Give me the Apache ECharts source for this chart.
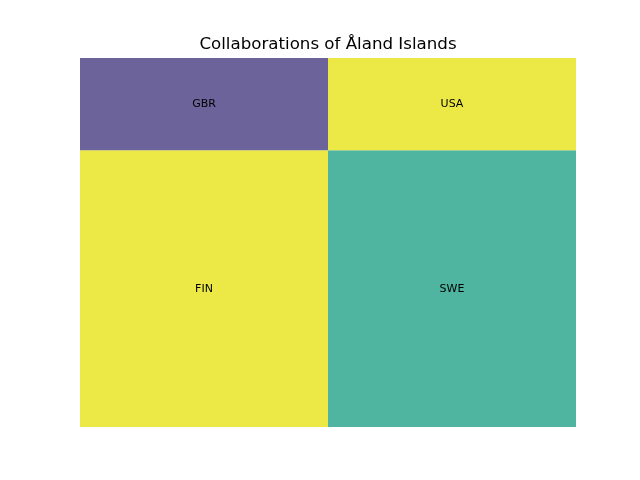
<!DOCTYPE html>
<html>
<head>
<meta charset="utf-8">
<script src="https://cdn.jsdelivr.net/npm/echarts@6/dist/echarts.min.js"></script>
<style>html,body{margin:0;padding:0;background:#fff}#c{width:640px;height:480px}</style>
</head>
<body>
<div id="c"></div>
<script>
const titleText = "Collaborations of Åland Islands";
const categories = ["FIN", "GBR", "SWE", "USA"];
const values = [3, 1, 3, 1];
const colors = ["#ece946", "#6b639a", "#4fb5a0", "#ece946"];

// squarify layout (port of the Python squarify package), in a 100x100 space
function layoutrow(s, x, y, dx, dy) {
  const a = s.reduce((p, q) => p + q, 0), w = a / dy, r = [];
  for (const v of s) { r.push({x: x, y: y, dx: w, dy: v / w}); y += v / w; }
  return r;
}
function layoutcol(s, x, y, dx, dy) {
  const a = s.reduce((p, q) => p + q, 0), h = a / dx, r = [];
  for (const v of s) { r.push({x: x, y: y, dx: v / h, dy: h}); x += v / h; }
  return r;
}
function layout(s, x, y, dx, dy) { return dx >= dy ? layoutrow(s, x, y, dx, dy) : layoutcol(s, x, y, dx, dy); }
function leftover(s, x, y, dx, dy) {
  const a = s.reduce((p, q) => p + q, 0);
  if (dx >= dy) { const w = a / dy; return [x + w, y, dx - w, dy]; }
  const h = a / dx; return [x, y + h, dx, dy - h];
}
function worst(s, x, y, dx, dy) {
  return Math.max(...layout(s, x, y, dx, dy).map(r => Math.max(r.dx / r.dy, r.dy / r.dx)));
}
function squarify(s, x, y, dx, dy) {
  if (s.length === 0) return [];
  if (s.length === 1) return layout(s, x, y, dx, dy);
  let i = 1;
  while (i < s.length && worst(s.slice(0, i), x, y, dx, dy) >= worst(s.slice(0, i + 1), x, y, dx, dy)) i++;
  const cur = s.slice(0, i), rem = s.slice(i);
  const [lx, ly, ldx, ldy] = leftover(cur, x, y, dx, dy);
  return layout(cur, x, y, dx, dy).concat(squarify(rem, lx, ly, ldx, ldy));
}
const total = values.reduce((p, q) => p + q, 0);
const norm = values.map(v => v * 100 * 100 / total);
const rects = squarify(norm, 0, 0, 100, 100);
const data = rects.map((r, i) => ({
  name: categories[i],
  value: [r.x, r.y, r.dx, r.dy, values[i]],
  itemStyle: {color: colors[i]}
}));

const chart = echarts.init(document.getElementById('c'));
chart.setOption({
  animation: false,
  backgroundColor: '#ffffff',
  graphic: [{
    type: 'text',
    x: 328, y: 53.5,
    style: {
      text: titleText, fill: '#000',
      font: '16.67px "DejaVu Sans"', align: 'center', verticalAlign: 'bottom'
    }
  }],
  grid: {left: 80, right: 64, top: 58, bottom: 53},
  xAxis: {type: 'value', min: 0, max: 100, show: false},
  yAxis: {type: 'value', min: 0, max: 100, show: false},
  series: [{
    type: 'custom',
    data: data,
    renderItem: function (params, api) {
      const x = api.value(0), y = api.value(1), dx = api.value(2), dy = api.value(3);
      const p0 = api.coord([x, y + dy]);
      const p1 = api.coord([x + dx, y]);
      const c = api.coord([x + dx / 2, y + dy / 2]);
      return {
        type: 'group',
        children: [{
          type: 'rect',
          shape: {x: p0[0], y: p0[1], width: p1[0] - p0[0], height: p1[1] - p0[1]},
          style: {fill: api.visual('color')}
        }, {
          type: 'text',
          x: c[0], y: c[1] + 0.5,
          style: {
            text: categories[params.dataIndex], fill: '#000',
            font: '11px "DejaVu Sans"', align: 'center', verticalAlign: 'middle'
          }
        }]
      };
    }
  }]
});
</script>
</body>
</html>
